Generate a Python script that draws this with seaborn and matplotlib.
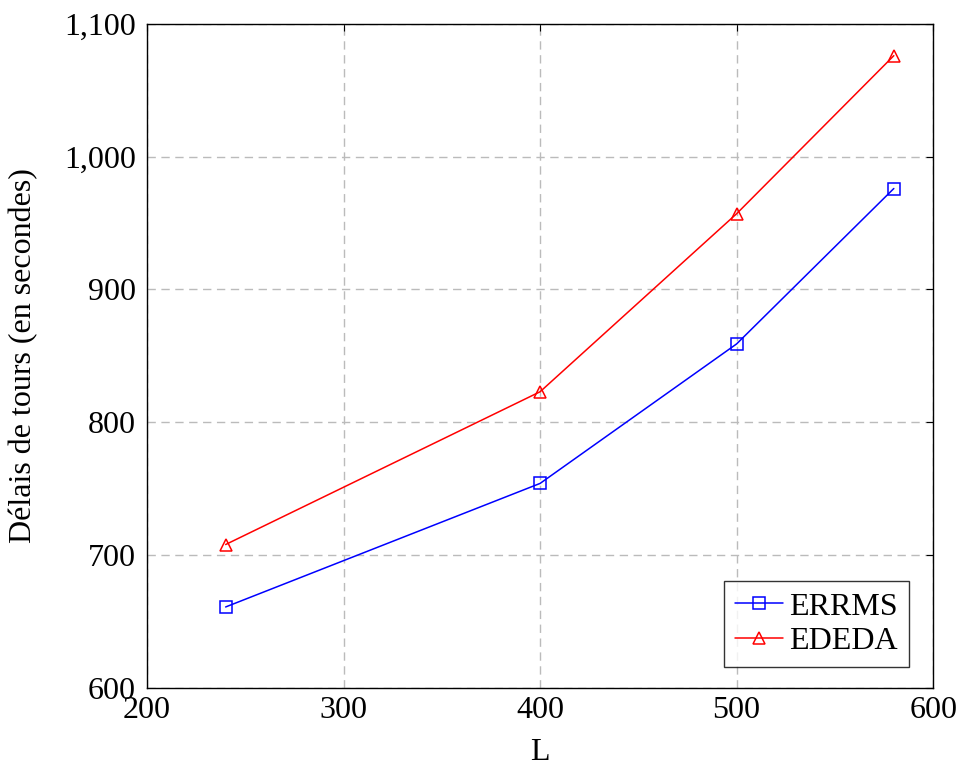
import pandas as pd
import seaborn as sns
import matplotlib.pyplot as plt
from matplotlib.ticker import FuncFormatter

# values
L_values = [240, 400, 500, 580]
errms = [661, 754, 859, 976]
ededa = [708, 823, 957, 1076]

df = pd.DataFrame({
    "L": L_values * 2,
    "delay": errms + ededa,
    "method": ["ERRMS"] * len(L_values) + ["EDEDA"] * len(L_values),
})

sns.set_style("white")
plt.rcParams['font.family'] = ['Liberation Serif', 'DejaVu Serif']
plt.rcParams['text.color'] = 'black'
plt.rcParams['axes.labelcolor'] = 'black'
plt.rcParams['xtick.color'] = 'black'
plt.rcParams['ytick.color'] = 'black'

fig = plt.figure(figsize=(9.61, 7.67), dpi=100)
ax = fig.add_axes([0.153, 0.103, 0.818, 0.866])

sns.lineplot(
    data=df, x="L", y="delay", hue="method", style="method",
    palette={"ERRMS": "#0000ff", "EDEDA": "#ff0000"},
    markers={"ERRMS": "s", "EDEDA": "^"}, dashes=False,
    markerfacecolor="none", markersize=8.5, markeredgewidth=1.1,
    linewidth=1.1, ax=ax,
)
# open markers need the edge colour set per line
for line in ax.get_lines():
    line.set_markeredgecolor(line.get_color())

ax.set_xlim(200, 600)
ax.set_ylim(600, 1100)
ax.set_xticks([200, 300, 400, 500, 600])
ax.set_yticks([600, 700, 800, 900, 1000, 1100])
ax.yaxis.set_major_formatter(FuncFormatter(lambda v, p: f"{int(v):,}"))
ax.grid(True, color="#bbbbbb", linestyle=(0, (6, 4)), linewidth=1)
ax.tick_params(direction="in", length=5, labelsize=23, top=True, right=True,
               color="black", labelcolor="black", width=0.8)
ax.tick_params(axis="x", pad=6)
ax.tick_params(axis="y", pad=8)
for s in ax.spines.values():
    s.set_color("black")
    s.set_linewidth(1.0)

ax.set_xlabel("L", fontsize=23, color="black")
ax.set_ylabel("Délais de tours (en secondes)", fontsize=23, color="black")
ax.xaxis.set_label_coords(0.5, -0.075)
ax.yaxis.set_label_coords(-0.138, 0.5)

handles, labels = ax.get_legend_handles_labels()
for h in handles:
    h.set_markerfacecolor("none")
    h.set_markeredgecolor(h.get_color())
leg = ax.legend(handles, labels, loc="lower right", fontsize=23, frameon=True,
                fancybox=False, edgecolor="black", borderpad=0.35,
                borderaxespad=0, handlelength=1.5, handletextpad=0.2,
                labelspacing=0.15, bbox_to_anchor=(0.9695, 0.0316),
                labelcolor="black")
leg.get_frame().set_linewidth(1.0)

fig.savefig("out.png", dpi=100)
